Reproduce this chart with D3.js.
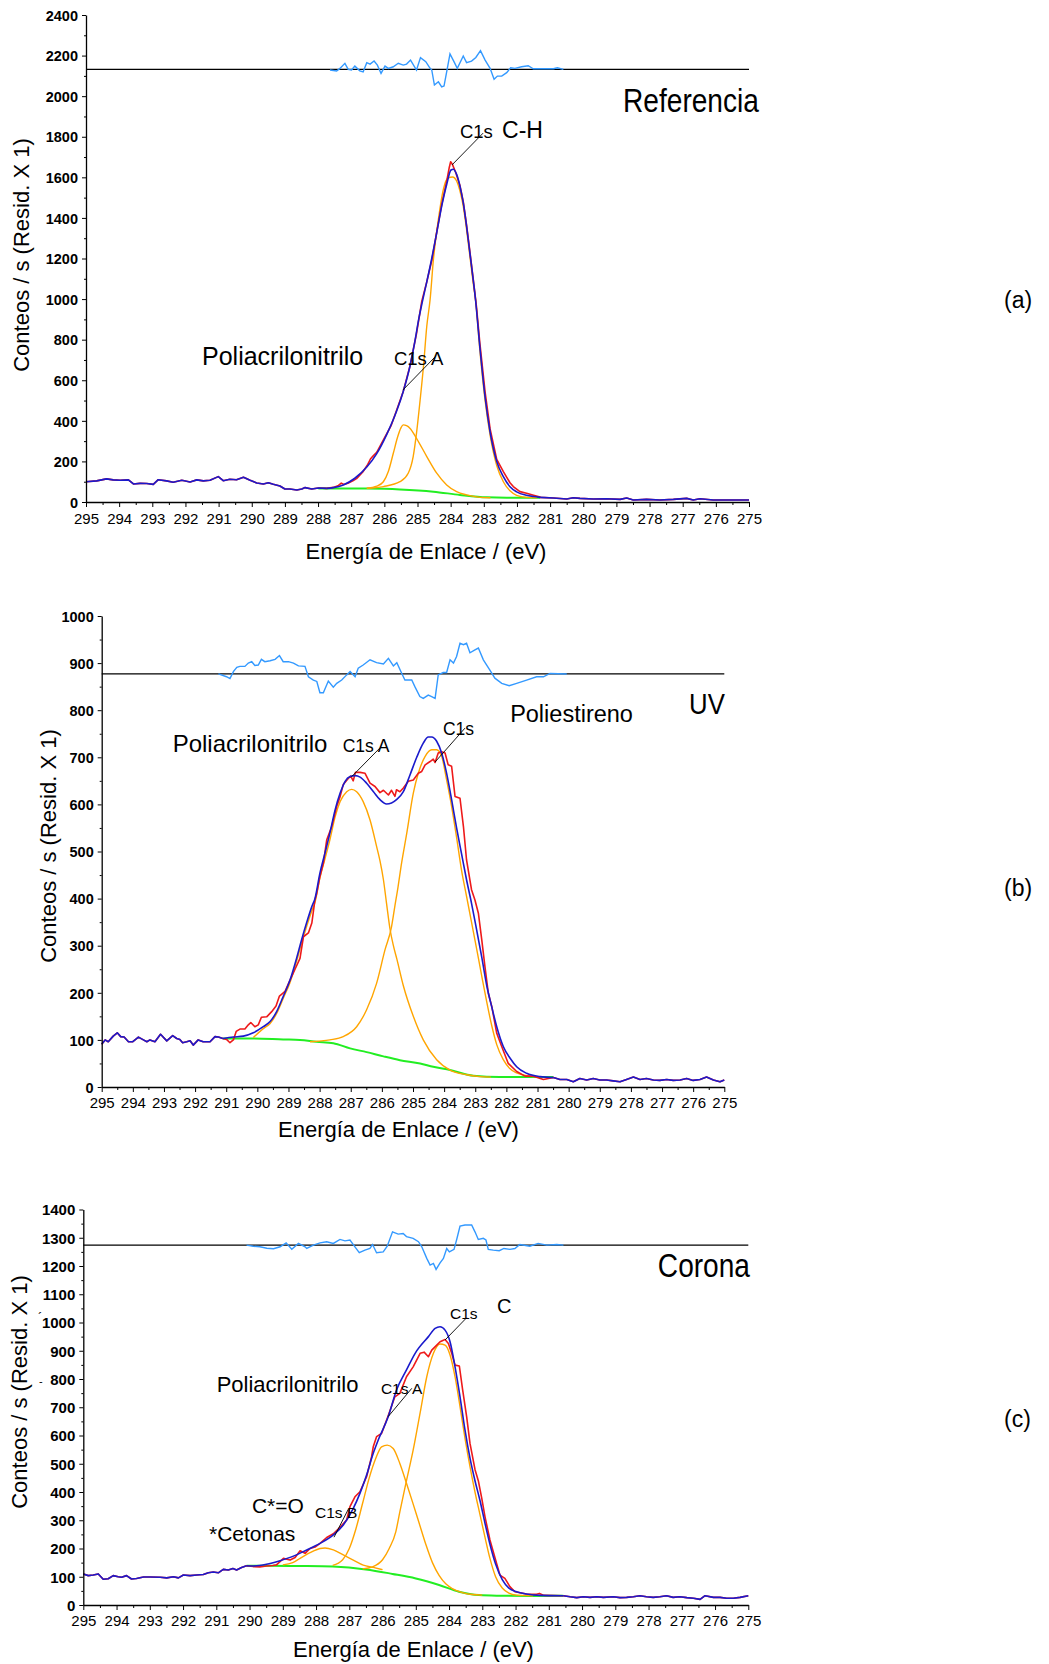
<!DOCTYPE html>
<html><head><meta charset="utf-8">
<script src="https://cdn.jsdelivr.net/npm/d3@7"></script>
<style>body{margin:0;background:#fff} text{font-family:Arial,"Liberation Sans",sans-serif;fill:#000}</style>
</head><body><script>
// ---------------- DATA (eV, counts/s) ----------------
// Panel (a) Referencia
const aLeft=[[295.00,100],[294.68,104],[294.38,114],[294.18,109],[293.97,107],[293.72,109],[293.57,89],[293.37,92],[293.17,91],[292.97,87],[292.82,110],[292.57,104],[292.37,97],[292.11,107],[291.86,99],[291.66,109],[291.46,104],[291.26,107],[291.01,125],[290.86,105],[290.66,112],[290.46,110],[290.25,122],[290.05,107],[289.85,94],[289.65,89],[289.50,95],[289.35,87],[289.15,79],[289.00,64],[288.85,64],[288.64,59],[288.49,64],[288.39,71],[288.19,64],[287.99,69],[287.74,67]];
const aEnv=[[287.74,67],[287.54,71],[287.24,84],[286.89,117],[286.53,172],[286.23,238],[285.93,332],[285.63,448],[285.43,545],[285.23,668],[285.08,790],[284.97,895],[284.85,990],[284.72,1085],[284.57,1200],[284.42,1327],[284.27,1458],[284.12,1565],[283.99,1636],[283.92,1640],[283.82,1615],[283.72,1557],[283.62,1475],[283.52,1360],[283.42,1228],[283.32,1096],[283.25,998],[283.12,765],[282.96,515],[282.81,345],[282.61,200],[282.41,125],[282.21,75],[282.01,50],[281.71,33],[281.50,27],[281.30,23]];
const aRaw=[[287.74,67],[287.54,72],[287.40,80],[287.30,93],[287.22,86],[287.10,92],[286.95,104],[286.84,115],[286.65,148],[286.50,185],[286.42,212],[286.35,225],[286.23,245],[286.00,315],[285.80,375],[285.63,452],[285.43,545],[285.23,668],[285.03,830],[284.87,990],[284.72,1085],[284.57,1190],[284.42,1330],[284.27,1465],[284.12,1580],[284.04,1650],[284.00,1677],[283.95,1665],[283.85,1625],[283.72,1560],[283.62,1480],[283.52,1365],[283.42,1235],[283.32,1100],[283.22,960],[283.12,785],[282.96,540],[282.81,360],[282.61,210],[282.41,150],[282.21,95],[282.11,76],[281.91,51],[281.71,43],[281.50,33],[281.30,24]];
const aRight=[[281.30,23],[280.90,20],[280.50,15],[280.30,21],[280.10,18],[279.70,15],[279.30,16],[278.89,13],[278.69,20],[278.49,10],[278.09,13],[277.69,10],[277.28,13],[276.88,18],[276.68,10],[276.48,16],[276.08,10],[275.67,10],[275.27,10],[275.00,10]];
const aCompCH=[[286.53,67],[286.03,76],[285.53,100],[285.28,142],[285.13,224],[285.03,339],[284.92,504],[284.82,668],[284.72,866],[284.62,997],[284.52,1195],[284.37,1393],[284.22,1541],[284.07,1598],[283.94,1602],[283.82,1582],[283.72,1533],[283.62,1458],[283.52,1343],[283.42,1212],[283.32,1080],[283.25,998],[283.12,750],[282.96,500],[282.81,330],[282.61,180],[282.41,100],[282.21,55],[282.01,33],[281.71,23],[281.40,21]];
const aCompA=[[286.53,68],[286.23,78],[286.03,100],[285.88,150],[285.73,240],[285.60,320],[285.50,365],[285.43,380],[285.33,376],[285.23,364],[285.03,314],[284.72,224],[284.42,142],[284.12,84],[283.82,51],[283.52,35],[283.12,23],[282.80,21]];
const aBg=[[287.99,67],[286.53,66],[285.53,62],[284.52,51],[283.72,35],[282.91,23],[282.31,21],[281.30,21]];
const aResid=[[287.64,-3],[287.44,-8],[287.34,5],[287.19,30],[287.09,0],[286.99,-3],[286.89,16],[286.74,-7],[286.64,-12],[286.53,33],[286.43,26],[286.31,41],[286.21,21],[286.10,-20],[285.98,16],[285.88,5],[285.73,13],[285.58,30],[285.43,21],[285.33,26],[285.21,46],[285.03,-3],[284.91,58],[284.75,38],[284.62,5],[284.57,-3],[284.49,-77],[284.37,-61],[284.27,-86],[284.20,-82],[284.12,-12],[284.02,76],[283.90,38],[283.80,5],[283.62,66],[283.52,33],[283.37,41],[283.24,59],[283.10,92],[282.96,46],[282.81,5],[282.69,-49],[282.59,-33],[282.46,-33],[282.31,-16],[282.19,8],[282.06,5],[281.86,13],[281.66,18],[281.51,3],[281.20,3],[280.90,3],[280.78,8],[280.60,0]];
const aZero=2132;

// Panel (b) UV
const bLeft=[[295.00,91],[294.89,100],[294.79,96],[294.63,108],[294.50,115],[294.39,107],[294.28,106],[294.14,96],[294.01,96],[293.82,106],[293.66,100],[293.55,96],[293.45,100],[293.29,96],[293.11,112],[292.91,98],[292.72,109],[292.59,103],[292.49,101],[292.40,94],[292.27,96],[292.16,98],[292.06,89],[291.90,100],[291.74,96],[291.52,96],[291.36,107],[291.25,106],[291.11,103]];
const bEnv=[[291.11,103],[290.77,106],[290.45,108],[290.13,115],[289.81,128],[289.59,139],[289.38,160],[289.17,192],[288.95,227],[288.74,273],[288.58,312],[288.42,348],[288.25,383],[288.15,400],[287.99,454],[287.83,496],[287.67,539],[287.50,589],[287.34,624],[287.18,649],[287.02,659],[286.86,661],[286.70,658],[286.49,645],[286.27,627],[286.06,610],[285.85,601],[285.69,603],[285.53,610],[285.31,627],[285.10,662],[284.88,700],[284.67,730],[284.51,743],[284.40,743],[284.24,734],[284.08,709],[283.92,666],[283.76,610],[283.60,550],[283.44,495],[283.28,440],[283.12,390],[282.96,335],[282.79,275],[282.63,215],[282.47,170],[282.31,128],[282.10,86],[281.88,61],[281.67,43],[281.35,29],[280.92,22],[280.49,20]];
const bRaw=[[291.11,103],[290.99,101],[290.88,94],[290.77,100],[290.68,118],[290.56,123],[290.40,123],[290.29,132],[290.21,137],[290.08,128],[289.97,132],[289.87,148],[289.70,149],[289.54,160],[289.40,172],[289.29,193],[289.11,203],[288.95,227],[288.79,250],[288.63,273],[288.52,319],[288.36,327],[288.25,348],[288.15,397],[288.09,412],[287.99,447],[287.88,475],[287.77,525],[287.61,553],[287.45,596],[287.34,617],[287.24,642],[287.08,655],[287.00,660],[286.92,650],[286.85,668],[286.70,668],[286.54,666],[286.38,645],[286.22,638],[286.06,625],[285.95,630],[285.79,620],[285.69,630],[285.58,617],[285.53,631],[285.42,627],[285.31,635],[285.15,649],[284.99,652],[284.83,666],[284.72,670],[284.61,684],[284.45,691],[284.35,696],[284.29,689],[284.19,709],[284.08,712],[283.97,709],[283.87,684],[283.76,681],[283.65,617],[283.49,613],[283.38,553],[283.28,482],[283.12,419],[283.01,397],[282.90,369],[282.79,312],[282.69,256],[282.58,199],[282.47,171],[282.31,114],[282.15,86],[281.94,50],[281.67,33],[281.40,23],[281.13,23],[280.81,16],[280.49,20]];
const bRight=[[280.49,20],[280.28,16],[280.06,16],[279.85,11],[279.64,18],[279.42,15],[279.21,18],[279.00,15],[278.78,15],[278.57,13],[278.35,11],[278.14,16],[277.92,21],[277.71,16],[277.50,18],[277.28,15],[277.07,14],[276.85,16],[276.64,14],[276.42,15],[276.21,18],[276.00,14],[275.78,16],[275.57,21],[275.35,15],[275.14,11],[275.00,15]];
const bCompA=[[290.13,105],[289.81,124],[289.59,135],[289.38,156],[289.17,188],[288.95,222],[288.74,267],[288.58,305],[288.42,340],[288.25,374],[288.15,392],[287.99,444],[287.83,484],[287.67,525],[287.50,574],[287.34,606],[287.13,627],[286.97,632],[286.81,627],[286.60,606],[286.38,567],[286.17,511],[286.06,480],[285.95,440],[285.85,390],[285.74,336],[285.63,300],[285.52,272],[285.31,215],[284.99,150],[284.67,100],[284.24,58],[283.81,36],[283.28,26],[282.85,22],[282.50,21]];
const bCompPS=[[288.31,96],[287.67,100],[287.24,107],[286.81,128],[286.49,164],[286.17,220],[285.90,291],[285.69,340],[285.58,385],[285.48,425],[285.38,470],[285.20,539],[284.99,624],[284.83,666],[284.61,702],[284.40,716],[284.24,716],[284.08,702],[283.92,652],[283.76,596],[283.60,530],[283.44,460],[283.28,405],[283.12,350],[282.96,295],[282.79,235],[282.63,180],[282.47,130],[282.31,90],[282.10,58],[281.90,40],[281.67,30],[281.35,24],[281.00,22]];
const bBg=[[291.11,103],[290.13,103],[289.17,101],[288.63,100],[288.10,96],[287.56,93],[287.02,82],[286.49,74],[285.95,65],[285.42,57],[284.77,50],[284.35,43],[283.81,36],[283.06,24],[282.21,21],[280.49,21]];
const bResid=[[291.25,0],[290.99,-6],[290.88,-10],[290.77,5],[290.66,14],[290.56,16],[290.40,16],[290.29,23],[290.18,26],[290.08,18],[289.97,19],[289.87,31],[289.76,26],[289.59,28],[289.43,31],[289.29,39],[289.17,26],[289.00,26],[288.84,23],[288.68,17],[288.47,16],[288.36,-6],[288.20,-13],[288.09,-16],[287.99,-40],[287.88,-40],[287.72,-15],[287.56,-28],[287.45,-20],[287.29,-13],[287.13,-2],[287.02,5],[286.86,-6],[286.76,12],[286.60,19],[286.38,30],[286.17,24],[285.95,21],[285.79,33],[285.63,17],[285.52,24],[285.36,1],[285.26,-13],[285.04,-13],[284.94,-27],[284.78,-48],[284.67,-52],[284.51,-45],[284.40,-48],[284.29,-52],[284.19,-2],[284.03,3],[283.92,3],[283.81,30],[283.70,23],[283.60,37],[283.49,65],[283.38,62],[283.28,65],[283.17,45],[283.01,51],[282.90,55],[282.74,30],[282.53,8],[282.37,-9],[282.15,-20],[281.91,-25],[281.67,-20],[281.35,-13],[281.03,-6],[280.81,-6],[280.60,1],[280.06,0]];
const bZero=877;

// Panel (c) Corona
const cLeft=[[295.00,110],[294.85,104],[294.70,106],[294.55,110],[294.40,91],[294.25,93],[294.10,104],[293.95,100],[293.85,98],[293.70,104],[293.55,92],[293.40,94],[293.19,99],[292.99,99],[292.69,98],[292.49,96],[292.29,100],[292.14,96],[291.99,106],[291.79,104],[291.59,106],[291.39,108],[291.24,114],[291.09,117],[290.94,114],[290.79,126],[290.64,124],[290.50,129],[290.39,124],[290.24,133],[290.09,139]];
const cEnv=[[290.09,139],[289.89,138],[289.49,144],[289.08,157],[288.68,173],[288.28,195],[287.88,218],[287.48,248],[287.18,283],[286.88,342],[286.68,395],[286.48,460],[286.28,537],[286.13,584],[285.83,666],[285.58,761],[285.28,832],[285.02,891],[284.62,950],[284.42,979],[284.27,985],[284.12,973],[283.97,932],[283.82,843],[283.67,737],[283.52,619],[283.37,520],[283.22,440],[283.07,370],[282.92,290],[282.77,215],[282.60,145],[282.40,90],[282.20,60],[281.97,47],[281.67,39],[281.27,34],[280.56,33]];
const cRaw=[[290.09,139],[289.89,136],[289.69,135],[289.49,138],[289.30,140],[289.19,142],[288.98,165],[288.88,162],[288.78,159],[288.63,168],[288.48,192],[288.33,183],[288.18,200],[288.03,205],[287.88,218],[287.68,239],[287.48,252],[287.28,275],[287.08,301],[286.98,348],[286.83,383],[286.68,401],[286.48,454],[286.33,525],[286.28,560],[286.18,596],[286.03,607],[285.83,670],[285.63,737],[285.48,749],[285.28,808],[285.08,843],[284.87,891],[284.75,895],[284.62,879],[284.52,902],[284.37,920],[284.27,932],[284.12,940],[284.02,926],[283.92,891],[283.82,849],[283.69,846],[283.59,761],[283.47,666],[283.37,572],[283.22,480],[283.12,440],[283.02,380],[282.92,313],[282.77,230],[282.57,147],[282.47,106],[282.32,94],[282.17,65],[282.02,47],[281.67,39],[281.37,38],[281.28,41],[281.15,34],[280.56,33]];
const cRight=[[280.56,33],[280.36,29],[280.16,26],[279.96,29],[279.76,27],[279.56,29],[279.36,27],[279.06,29],[278.86,26],[278.66,27],[278.46,29],[278.26,33],[278.06,29],[277.86,27],[277.66,29],[277.46,33],[277.26,27],[277.06,29],[276.85,26],[276.65,24],[276.45,20],[276.30,33],[276.05,27],[275.85,27],[275.65,24],[275.45,24],[275.25,27],[275.00,33]];
const cCompC=[[286.60,128],[286.30,135],[286.00,160],[285.80,200],[285.60,260],[285.48,330],[285.28,440],[285.08,548],[284.87,680],[284.67,808],[284.47,891],[284.27,924],[284.12,920],[283.97,885],[283.82,808],[283.67,702],[283.52,590],[283.37,490],[283.22,400],[283.07,320],[282.92,240],[282.77,165],[282.60,100],[282.40,60],[282.20,42],[281.97,35],[281.47,33]];
const cCompA=[[287.50,140],[287.20,160],[287.00,200],[286.80,270],[286.60,360],[286.40,450],[286.20,520],[286.03,560],[285.86,566],[285.68,554],[285.48,501],[285.28,431],[285.10,365],[284.90,290],[284.70,215],[284.50,150],[284.30,105],[284.10,75],[283.90,58],[283.60,44],[283.30,37],[283.00,35]];
const cCompB=[[289.00,142],[288.70,150],[288.48,165],[288.18,185],[287.88,200],[287.73,202],[287.48,195],[287.18,177],[286.88,159],[286.58,141],[286.28,133],[286.00,125]];
const cBg=[[290.09,139],[289.50,139],[288.50,138],[287.50,136],[286.50,126],[285.70,110],[285.00,94],[284.30,71],[283.70,47],[283.10,35],[282.50,33],[281.50,32],[280.56,33]];
const cResid=[[290.09,0],[289.89,-4],[289.69,-6],[289.48,-11],[289.28,-13],[289.08,-6],[288.90,8],[288.73,-15],[288.53,6],[288.33,-6],[288.28,-12],[288.08,0],[287.88,8],[287.68,12],[287.48,6],[287.28,20],[287.13,15],[286.98,18],[286.83,-6],[286.70,-27],[286.53,-18],[286.38,-12],[286.30,2],[286.18,-27],[285.98,-24],[285.86,-4],[285.70,47],[285.53,39],[285.38,41],[285.28,30],[285.08,24],[284.92,12],[284.82,-6],[284.67,-47],[284.57,-71],[284.47,-65],[284.39,-86],[284.27,-63],[284.17,-47],[284.07,-12],[283.99,-24],[283.85,-15],[283.77,20],[283.67,67],[283.52,71],[283.32,71],[283.22,47],[283.12,20],[282.97,24],[282.89,18],[282.82,-15],[282.67,-18],[282.49,-20],[282.35,-12],[282.17,-15],[282.02,-12],[281.87,2],[281.57,-4],[281.32,6],[281.06,0],[280.76,2],[280.56,0]];
const cZero=1274;

// Tick labels / axes text
const xTickValues=d3.range(295,274.5,-1);
const xMinorValues=d3.range(294.5,275,-1);
const xTitle="Energía de Enlace / (eV)";
const yTitle="Conteos / s (Resid. X 1)";

// Annotations (data coordinates: eV, counts)
const aLabels=[{t:"Referencia",e:278.80,v:1922,size:33,toE:274.70},{t:"C1s",e:283.72,v:1794,size:18.5},{t:"C-H",e:282.45,v:1794,size:23},{t:"Poliacrilonitrilo",e:291.50,v:675,size:25},{t:"C1s A",e:285.71,v:675,size:18.5}];
const aLeaders=[[[283.02,1818],[283.96,1661]],[[284.47,715],[285.44,552]]];
const bLabels=[{t:"UV",e:276.13,v:791,size:30,toE:274.98},{t:"Poliestireno",e:281.88,v:776,size:23.5},{t:"Poliacrilonitrilo",e:292.72,v:712,size:24},{t:"C1s A",e:287.26,v:712,size:17.5},{t:"C1s",e:284.04,v:747,size:17.5}];
const bLeaders=[[[286.06,720],[286.97,659]],[[283.33,762],[284.29,690]]];
const cLabels=[{t:"Corona",e:277.72,v:1162,size:34,toE:274.95},{t:"C1s",e:283.97,v:1012,size:15.5},{t:"C",e:282.56,v:1035,size:20},{t:"Poliacrilonitrilo",e:290.99,v:755,size:22},{t:"C1s A",e:286.05,v:747,size:15.5},{t:"C*=O",e:289.93,v:325,size:21},{t:"*Cetonas",e:291.22,v:228,size:21},{t:"C1s B",e:288.03,v:308,size:15.5}];
const cLeaders=[[[283.47,1017],[284.12,938]],[[285.12,767],[285.83,667]],[[287.03,339],[287.46,240]]];

// ---------------- LAYOUT ----------------
const svg=d3.select("body").append("svg").attr("width",1049).attr("height",1664);
svg.append("rect").attr("width",1049).attr("height",1664).attr("fill","#fff");
const COL={raw:"#ee1a1a",env:"#1a1acc",comp:"#ffa500",bg:"#22ee22",res:"#3399ff"};

function panel(L,D){
  const x=d3.scaleLinear().domain([295,275]).range([L.x0,L.x1]);
  const y=d3.scaleLinear().domain([0,L.ymax]).range([L.y0,L.ytop]);
  const g=svg.append("g");
  const lin=d3.line().x(d=>x(d[0])).y(d=>y(d[1]));
  const smooth=d3.line().x(d=>x(d[0])).y(d=>y(d[1])).curve(d3.curveMonotoneX);
  g.append("path").attr("d",lin([[295,D.zero],[275,D.zero]])).attr("stroke","#000").attr("stroke-width",1.3).attr("fill","none");
  g.append("path").attr("d",lin(D.resid.map(d=>[d[0],D.zero+d[1]]))).attr("stroke",COL.res).attr("stroke-width",1.4).attr("fill","none");
  g.append("path").attr("d",smooth(D.bg)).attr("stroke",COL.bg).attr("stroke-width",2).attr("fill","none");
  D.comps.forEach(c=>g.append("path").attr("d",smooth(c)).attr("stroke",COL.comp).attr("stroke-width",1.4).attr("fill","none"));
  g.append("path").attr("d",lin(D.left.concat(D.raw,D.right))).attr("stroke",COL.raw).attr("stroke-width",1.6).attr("fill","none").attr("stroke-linejoin","round");
  g.append("path").attr("d",lin(D.left)).attr("stroke",COL.env).attr("stroke-width",1.6).attr("fill","none").attr("stroke-linejoin","round");
  g.append("path").attr("d",smooth(D.env)).attr("stroke",COL.env).attr("stroke-width",1.6).attr("fill","none");
  g.append("path").attr("d",lin(D.right)).attr("stroke",COL.env).attr("stroke-width",1.6).attr("fill","none").attr("stroke-linejoin","round");
  const ya=g.append("g").attr("transform",`translate(${L.x0},0)`)
    .call(d3.axisLeft(y).tickValues(d3.range(0,L.ymax+1,L.ystep)).tickSize(4).tickSizeOuter(0).tickPadding(4).tickFormat(d3.format("d")));
  ya.select(".domain").attr("stroke-width",1.3);
  ya.selectAll("text").style("font-size",L.yfs+"px").style("font-weight","bold").attr("dy","0.36em");
  g.append("g").attr("transform",`translate(${L.x0},0)`)
    .call(d3.axisLeft(y).tickValues(d3.range(L.yminor,L.ymax,L.ystep)).tickSize(2).tickFormat(""))
    .select(".domain").remove();
  const xa=g.append("g").attr("transform",`translate(0,${L.y0})`)
    .call(d3.axisBottom(x).tickValues(xTickValues).tickSize(5).tickSizeOuter(0).tickFormat(d3.format("d")));
  xa.select(".domain").attr("stroke-width",1.3);
  xa.selectAll("text").style("font-size","15px").attr("y",L.xlOff).attr("dy",0);
  g.append("g").attr("transform",`translate(0,${L.y0})`)
    .call(d3.axisBottom(x).tickValues(xMinorValues).tickSize(3).tickFormat(""))
    .select(".domain").remove();
  g.append("text").attr("x",L.xt[0]).attr("y",L.xt[1]).attr("text-anchor","middle").style("font-size","22px").text(xTitle);
  g.append("text").attr("transform",`translate(${L.yt[0]},${L.yt[1]}) rotate(-90)`).attr("dy","0.35em").attr("text-anchor","middle").style("font-size","22px").text(yTitle);
  g.append("text").attr("x",L.tag[0]).attr("y",L.tag[1]).style("font-size","23px").text(L.tagText);
  D.leaders.forEach(l=>g.append("path").attr("d",lin(l)).attr("stroke","#000").attr("stroke-width",0.9).attr("fill","none"));
  D.labels.forEach(a=>{
    const t=g.append("text").attr("x",x(a.e)).attr("y",y(a.v)).style("font-size",a.size+"px").text(a.t);
    if(a.toE) t.attr("textLength",x(a.toE)-x(a.e)).attr("lengthAdjust","spacingAndGlyphs");
  });
  return g;
}

panel({x0:86,x1:749,y0:502,ytop:15,ymax:2400,ystep:200,yminor:100,yfs:14.5,xlOff:22,xt:[426,559],yt:[21,255],tag:[1004,308],tagText:"(a)"},
  {left:aLeft,env:aEnv,raw:aRaw,right:aRight,comps:[aCompA,aCompCH],bg:aBg,resid:aResid,zero:aZero,labels:aLabels,leaders:aLeaders});
panel({x0:101.7,x1:724.3,y0:1087,ytop:616,ymax:1000,ystep:100,yminor:50,yfs:14.5,xlOff:21,xt:[398.5,1137],yt:[48,846],tag:[1004,896],tagText:"(b)"},
  {left:bLeft,env:bEnv,raw:bRaw,right:bRight,comps:[bCompA,bCompPS],bg:bBg,resid:bResid,zero:bZero,labels:bLabels,leaders:bLeaders});
const gc=panel({x0:83.3,x1:748.3,y0:1605,ytop:1209.5,ymax:1400,ystep:100,yminor:50,yfs:15,xlOff:21,xt:[413.5,1657],yt:[19,1392],tag:[1004,1427],tagText:"(c)"},
  {left:cLeft,env:cEnv,raw:cRaw,right:cRight,comps:[cCompB,cCompA,cCompC],bg:cBg,resid:cResid,zero:cZero,labels:cLabels,leaders:cLeaders});
gc.append("text").attr("x",38).attr("y",1322).style("font-size","13px").text("´");
gc.append("text").attr("x",39).attr("y",1385).style("font-size","11px").text("-");
</script></body></html>
